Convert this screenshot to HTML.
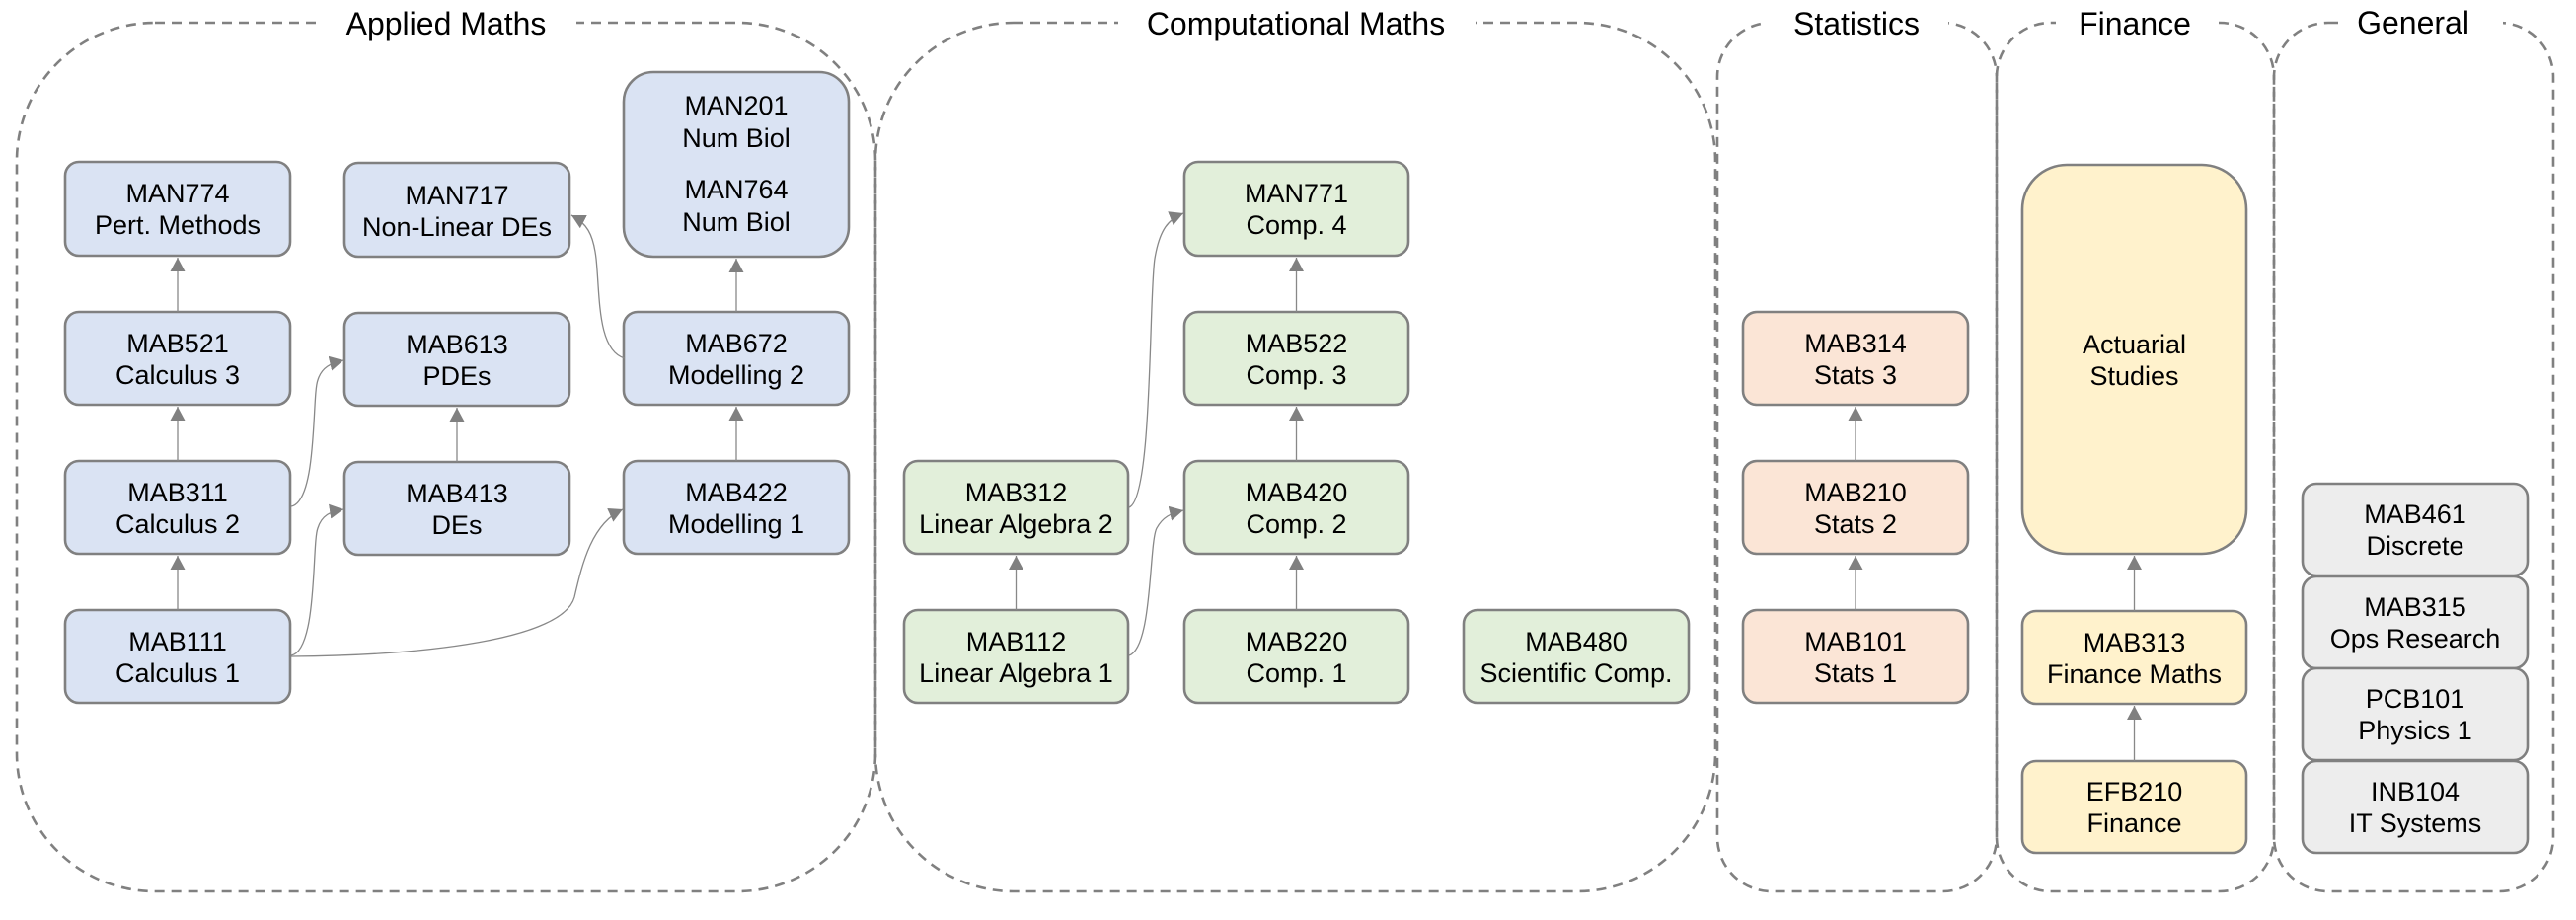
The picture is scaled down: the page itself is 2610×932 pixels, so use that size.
<!DOCTYPE html>
<html><head><meta charset="utf-8"><style>
html,body{margin:0;padding:0;background:#fff;width:2610px;height:932px;overflow:hidden}
svg{display:block}
text{font-family:"Liberation Sans",Arial,Helvetica,sans-serif;fill:#000}
.n{font-size:27px;text-anchor:middle}
.t{font-size:32px;text-anchor:middle}
.grp{fill:none;stroke:#808080;stroke-width:2.6;stroke-dasharray:10 7}
.nd{stroke:#808080;stroke-width:2.6}
.b{fill:#dae3f3}.g{fill:#e2efda}.p{fill:#fbe5d6}.y{fill:#fff2cc}.gr{fill:#ededed}
.e{fill:none;stroke:#888;stroke-width:1.3}
</style></head><body>
<svg width="2610" height="932" viewBox="0 0 2610 932" xmlns="http://www.w3.org/2000/svg">
<defs>
<marker id="a" markerUnits="userSpaceOnUse" markerWidth="16" markerHeight="16" refX="14" refY="7.5" orient="auto">
<path d="M0,0 L14,7.5 L0,15 z" fill="#808080"/>
</marker>
</defs>

<rect class="grp" x="17" y="23" width="870" height="880" rx="140" ry="140"/>
<rect class="grp" x="887" y="23" width="851" height="880" rx="140" ry="140"/>
<rect class="grp" x="1740" y="23" width="283" height="880" rx="55" ry="55"/>
<rect class="grp" x="2023" y="23" width="281" height="880" rx="55" ry="55"/>
<rect class="grp" x="2304" y="23" width="283" height="880" rx="55" ry="55"/>

<rect x="320" y="5" width="264" height="40" fill="#fff"/>
<rect x="1133" y="5" width="362" height="40" fill="#fff"/>
<rect x="1790" y="5" width="184" height="40" fill="#fff"/>
<rect x="2083" y="5" width="160" height="40" fill="#fff"/>
<rect x="2376" y="5" width="160" height="40" fill="#fff"/>

<text class="t" x="452" y="35">Applied Maths</text>
<text class="t" x="1313" y="35">Computational Maths</text>
<text class="t" x="1881" y="35">Statistics</text>
<text class="t" x="2163" y="35">Finance</text>
<text class="t" x="2445" y="34">General</text>

<rect class="nd b" x="66" y="164" width="228" height="95" rx="14"/>
<text class="n" x="180" y="205">MAN774</text><text class="n" x="180" y="237">Pert. Methods</text>
<rect class="nd b" x="66" y="316" width="228" height="94" rx="14"/>
<text class="n" x="180" y="357">MAB521</text><text class="n" x="180" y="389">Calculus 3</text>
<rect class="nd b" x="66" y="467" width="228" height="94" rx="14"/>
<text class="n" x="180" y="508">MAB311</text><text class="n" x="180" y="540">Calculus 2</text>
<rect class="nd b" x="66" y="618" width="228" height="94" rx="14"/>
<text class="n" x="180" y="659">MAB111</text><text class="n" x="180" y="691">Calculus 1</text>

<rect class="nd b" x="349" y="165" width="228" height="95" rx="14"/>
<text class="n" x="463" y="207">MAN717</text><text class="n" x="463" y="239">Non-Linear DEs</text>
<rect class="nd b" x="349" y="317" width="228" height="94" rx="14"/>
<text class="n" x="463" y="358">MAB613</text><text class="n" x="463" y="390">PDEs</text>
<rect class="nd b" x="349" y="468" width="228" height="94" rx="14"/>
<text class="n" x="463" y="509">MAB413</text><text class="n" x="463" y="541">DEs</text>

<rect class="nd b" x="632" y="73" width="228" height="187" rx="30"/>
<text class="n" x="746" y="116">MAN201</text><text class="n" x="746" y="149">Num Biol</text>
<text class="n" x="746" y="201">MAN764</text><text class="n" x="746" y="234">Num Biol</text>
<rect class="nd b" x="632" y="316" width="228" height="94" rx="14"/>
<text class="n" x="746" y="357">MAB672</text><text class="n" x="746" y="389">Modelling 2</text>
<rect class="nd b" x="632" y="467" width="228" height="94" rx="14"/>
<text class="n" x="746" y="508">MAB422</text><text class="n" x="746" y="540">Modelling 1</text>

<rect class="nd g" x="1200" y="164" width="227" height="95" rx="14"/>
<text class="n" x="1313.5" y="205">MAN771</text><text class="n" x="1313.5" y="237">Comp. 4</text>
<rect class="nd g" x="1200" y="316" width="227" height="94" rx="14"/>
<text class="n" x="1313.5" y="357">MAB522</text><text class="n" x="1313.5" y="389">Comp. 3</text>
<rect class="nd g" x="1200" y="467" width="227" height="94" rx="14"/>
<text class="n" x="1313.5" y="508">MAB420</text><text class="n" x="1313.5" y="540">Comp. 2</text>
<rect class="nd g" x="1200" y="618" width="227" height="94" rx="14"/>
<text class="n" x="1313.5" y="659">MAB220</text><text class="n" x="1313.5" y="691">Comp. 1</text>
<rect class="nd g" x="916" y="467" width="227" height="94" rx="14"/>
<text class="n" x="1029.5" y="508">MAB312</text><text class="n" x="1029.5" y="540">Linear Algebra 2</text>
<rect class="nd g" x="916" y="618" width="227" height="94" rx="14"/>
<text class="n" x="1029.5" y="659">MAB112</text><text class="n" x="1029.5" y="691">Linear Algebra 1</text>
<rect class="nd g" x="1483" y="618" width="228" height="94" rx="14"/>
<text class="n" x="1597" y="659">MAB480</text><text class="n" x="1597" y="691">Scientific Comp.</text>

<rect class="nd p" x="1766" y="316" width="228" height="94" rx="14"/>
<text class="n" x="1880" y="357">MAB314</text><text class="n" x="1880" y="389">Stats 3</text>
<rect class="nd p" x="1766" y="467" width="228" height="94" rx="14"/>
<text class="n" x="1880" y="508">MAB210</text><text class="n" x="1880" y="540">Stats 2</text>
<rect class="nd p" x="1766" y="618" width="228" height="94" rx="14"/>
<text class="n" x="1880" y="659">MAB101</text><text class="n" x="1880" y="691">Stats 1</text>

<rect class="nd y" x="2049" y="167" width="227" height="394" rx="45"/>
<text class="n" x="2162.5" y="358">Actuarial</text><text class="n" x="2162.5" y="390">Studies</text>
<rect class="nd y" x="2049" y="619" width="227" height="94" rx="14"/>
<text class="n" x="2162.5" y="660">MAB313</text><text class="n" x="2162.5" y="692">Finance Maths</text>
<rect class="nd y" x="2049" y="771" width="227" height="93" rx="14"/>
<text class="n" x="2162.5" y="811">EFB210</text><text class="n" x="2162.5" y="843">Finance</text>

<rect class="nd gr" x="2333" y="490" width="228" height="93" rx="14"/>
<text class="n" x="2447" y="530">MAB461</text><text class="n" x="2447" y="562">Discrete</text>
<rect class="nd gr" x="2333" y="584" width="228" height="93" rx="14"/>
<text class="n" x="2447" y="624">MAB315</text><text class="n" x="2447" y="656">Ops Research</text>
<rect class="nd gr" x="2333" y="677" width="228" height="93" rx="14"/>
<text class="n" x="2447" y="717">PCB101</text><text class="n" x="2447" y="749">Physics 1</text>
<rect class="nd gr" x="2333" y="771" width="228" height="93" rx="14"/>
<text class="n" x="2447" y="811">INB104</text><text class="n" x="2447" y="843">IT Systems</text>

<g class="e" marker-end="url(#a)">
<path d="M180,316 L180,261"/>
<path d="M180,467 L180,412"/>
<path d="M180,618 L180,563"/>
<path d="M463,468 L463,413"/>
<path d="M746,316 L746,262"/>
<path d="M746,467 L746,412"/>
<path d="M1313.5,316 L1313.5,261"/>
<path d="M1313.5,467 L1313.5,412"/>
<path d="M1313.5,618 L1313.5,563"/>
<path d="M1029.5,618 L1029.5,563"/>
<path d="M1880,467 L1880,412"/>
<path d="M1880,618 L1880,563"/>
<path d="M2162.5,619 L2162.5,563"/>
<path d="M2162.5,771 L2162.5,715"/>
</g>
<g class="e" marker-end="url(#a)">
<path d="M295,513 C322,508 316,400 322,385 C326,372 335,368 348,365"/>
<path d="M295,664 C322,659 316,550 322,535 C326,522 335,518 348,516"/>
<path d="M295,665 C430,664 570,648 582,605 C590,570 600,530 631,516"/>
<path d="M633,363 C605,355 608,300 604,262 C601,236 594,226 579,218"/>
<path d="M1144,514 C1168,505 1164,300 1170,262 C1175,232 1184,222 1199,216"/>
<path d="M1144,664 C1168,656 1164,550 1172,535 C1178,524 1186,520 1199,517"/>
</g>
</svg>
</body></html>
